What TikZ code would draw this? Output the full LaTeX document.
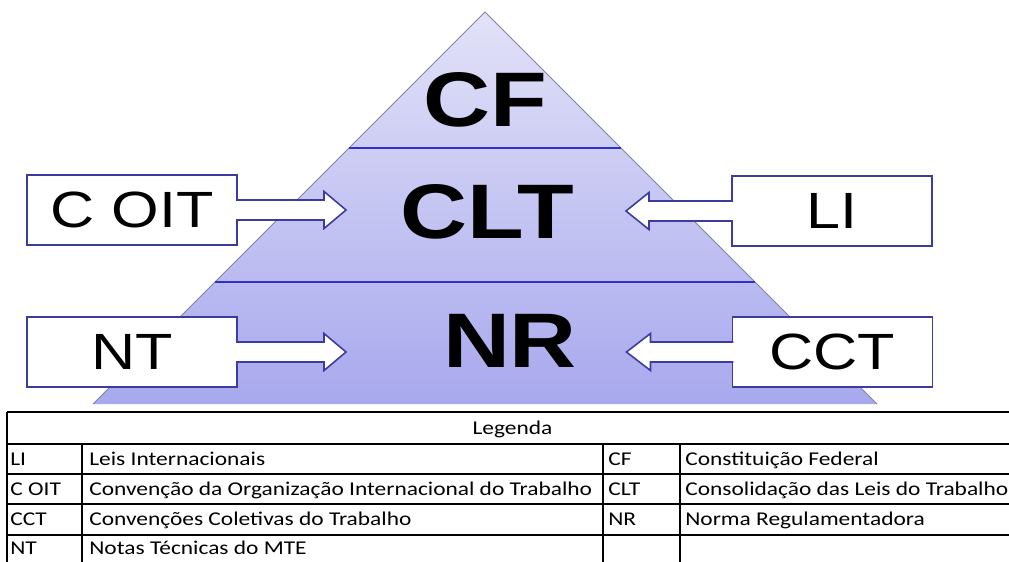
\documentclass[tikz,border=0pt]{standalone}
\usepackage{fontspec}
\setmainfont{Liberation Sans}
\newfontfamily\tablafont{Carlito}
\usepackage{graphicx}
\newcommand{\ancho}[1]{\scalebox{1.2}[1]{#1}}
\definecolor{azulcaja}{RGB}{60,60,160}
\definecolor{azulnivel}{RGB}{48,48,200}
\definecolor{piramidesup}{RGB}{226,226,248}
\definecolor{piramideinf}{RGB}{168,168,238}
\definecolor{bordepir}{RGB}{130,130,165}

\tikzset{
  nivel/.style={font=\fontsize{44}{44}\selectfont\bfseries, inner sep=0pt},
  caja/.style={draw=azulcaja, line width=1.1pt, fill=white, font=\fontsize{29}{29}\selectfont,
    minimum width=4.2cm, minimum height=1.4cm, inner sep=0pt},
  flecha/.style={draw=azulcaja, fill=white, line width=0.9pt, line join=miter},
  celda/.style={font=\tablafont\fontsize{11.1}{12}\selectfont, anchor=west, inner sep=0pt,
    text height=7.3pt, text depth=0pt},
  rejilla/.style={line width=0.6pt},
}

\begin{document}
\begin{tikzpicture}
  \useasboundingbox (0,0) rectangle (20.18,11.22);
  % piramide
  \shade[top color=piramidesup, bottom color=piramideinf] (9.70,10.98) -- (17.54,3.14) -- (1.86,3.14) -- cycle;
  \draw[bordepir, line width=0.5pt] (1.86,3.14) -- (9.70,10.98) -- (17.54,3.14);
  % divisiones entre niveles
  \draw[azulnivel, line width=1.6pt] (6.98,8.26) -- (12.42,8.26);
  \draw[azulnivel, line width=1.6pt] (4.30,5.58) -- (15.10,5.58);
  % niveles
  \node[nivel] (cf) at (9.70,9.22) {\ancho{CF}};
  \node[nivel] (clt) at (9.74,6.98) {\ancho{CLT}};
  \node[nivel] (nr) at (10.20,4.40) {\ancho{NR}};
  % cajas laterales
  \node[caja] (coit) at (2.64,7.02) {\ancho{C OIT}};
  \node[caja, minimum width=4.0cm] (li) at (16.64,7.00) {\ancho{LI}};
  \node[caja] (nt) at (2.64,4.18) {\ancho{NT}};
  \node[caja, minimum width=4.0cm] (cct) at (16.65,4.18) {\ancho{CCT}};
  % flechas hacia la piramide
  \filldraw[flecha] ([xshift=-1.1pt]coit.east) ++(0,0.2) -- ++(1.76,0) -- ++(0,0.17)
        -- ++(0.44,-0.37) -- ++(-0.44,-0.37) -- ++(0,0.17) -- ++(-1.76,0);
  \filldraw[flecha] ([xshift=-1.1pt]nt.east) ++(0,0.2) -- ++(1.76,0) -- ++(0,0.17)
        -- ++(0.44,-0.37) -- ++(-0.44,-0.37) -- ++(0,0.17) -- ++(-1.76,0);
  \filldraw[flecha] ([xshift=1.1pt]li.west) ++(0,0.2) -- ++(-1.68,0) -- ++(0,0.17)
        -- ++(-0.46,-0.37) -- ++(0.46,-0.37) -- ++(0,0.17) -- ++(1.68,0);
  \filldraw[flecha] ([xshift=1.1pt]cct.west) ++(0,0.2) -- ++(-1.66,0) -- ++(0,0.17)
        -- ++(-0.48,-0.37) -- ++(0.48,-0.37) -- ++(0,0.17) -- ++(1.66,0);
  % tabla de leyenda
  \draw[line width=0.9pt] (0.14,2.98) -- (20.4,2.98);
  \foreach \y in {2.34,1.74,1.14,0.52} \draw[rejilla] (0.14,\y) -- (20.4,\y);
  \draw[rejilla] (0.14,2.98) -- (0.14,-0.2);
  \foreach \x in {1.64,12.06,13.60} \draw[rejilla] (\x,2.34) -- (\x,-0.2);
  \node[celda, anchor=center] (leyenda) at (10.25,2.66) {\ancho{Legenda}};
  \node[celda] (sli) at (0.20,2.04) {\ancho{LI}};
  \node[celda] (dli) at (1.78,2.04) {\ancho{Leis Internacionais}};
  \node[celda] (scoit) at (0.20,1.44) {\ancho{C OIT}};
  \node[celda] (dcoit) at (1.78,1.44) {\ancho{Convenção da Organização Internacional do Trabalho}};
  \node[celda] (scct) at (0.20,0.84) {\ancho{CCT}};
  \node[celda] (dcct) at (1.78,0.84) {\ancho{Convenções Coletivas do Trabalho}};
  \node[celda] (snt) at (0.20,0.26) {\ancho{NT}};
  \node[celda] (dnt) at (1.78,0.26) {\ancho{Notas Técnicas do MTE}};
  \node[celda] (scf) at (12.16,2.04) {\ancho{CF}};
  \node[celda] (dcf) at (13.70,2.04) {\ancho{Constituição Federal}};
  \node[celda] (sclt) at (12.16,1.44) {\ancho{CLT}};
  \node[celda] (dclt) at (13.70,1.44) {\ancho{Consolidação das Leis do Trabalho}};
  \node[celda] (snr) at (12.16,0.84) {\ancho{NR}};
  \node[celda] (dnr) at (13.70,0.84) {\ancho{Norma Regulamentadora}};
\end{tikzpicture}
\end{document}
